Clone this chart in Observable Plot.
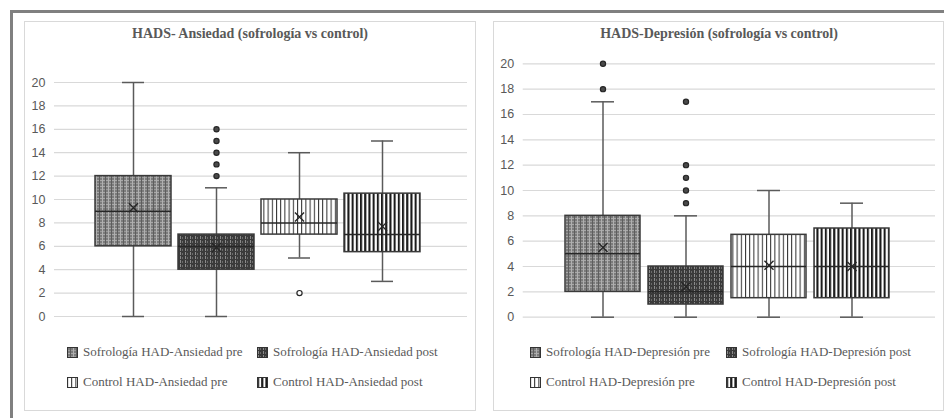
<!DOCTYPE html>
<html>
<head>
<meta charset="utf-8">
<script src="https://cdn.jsdelivr.net/npm/d3@7"></script>
<script src="https://cdn.jsdelivr.net/npm/@observablehq/plot@0.6"></script>
<style>
  html, body { margin: 0; padding: 0; background: #fff; }
  #page { position: relative; width: 944px; height: 418px; overflow: hidden; background: #fff; }
  #frame { position: absolute; left: 9.5px; top: 10px; width: 960px; height: 430px; border-top: 3.5px solid #808080; border-left: 3.5px solid #808080; box-sizing: border-box; }
  .panel { position: absolute; top: 21px; height: 390px; border: 1px solid #d9d9d9; box-sizing: border-box; background: #fff; }
  .title { position: absolute; top: 26px; font-family: "Liberation Serif", "Times New Roman", serif; font-weight: bold; font-size: 14px; color: #595959; white-space: nowrap; transform: translateX(-50%); }
  .plot { position: absolute; }
  .leg { position: absolute; font-family: "Liberation Serif", "Times New Roman", serif; font-size: 13px; color: #595959; white-space: nowrap; line-height: 16px; transform: translateY(-50%); display: flex; align-items: center; }
  .leg svg { margin-right: 5px; }
</style>
</head>
<body>
<svg width="0" height="0" style="position:absolute">
  <defs>
    <pattern id="pSofPre" patternUnits="userSpaceOnUse" width="6" height="6">
      <rect width="6" height="6" fill="#7b7b7b"/>
      <rect x="0" y="0" width="6" height="1" fill="#a9a9a9"/>
      <rect x="0" y="3" width="6" height="1" fill="#9a9a9a"/>
      <rect x="0" y="0" width="1" height="6" fill="#b0b0b0"/>
      <rect x="3" y="0" width="1" height="6" fill="#5e5e5e"/>
    </pattern>
    <pattern id="pSofPost" patternUnits="userSpaceOnUse" width="5" height="4">
      <rect width="5" height="4" fill="#3a3a3a"/>
      <rect x="1" y="0" width="1" height="3" fill="#8a8a8a"/>
      <rect x="3" y="1" width="1" height="2" fill="#6a6a6a"/>
    </pattern>
    <pattern id="pCtlPre" patternUnits="userSpaceOnUse" width="4.2" height="4">
      <rect width="4.2" height="4" fill="#ffffff"/>
      <rect x="0" y="0" width="1" height="4" fill="#2a2a2a"/>
    </pattern>
    <pattern id="pCtlPost" patternUnits="userSpaceOnUse" width="4.2" height="4">
      <rect width="4.2" height="4" fill="#ffffff"/>
      <rect x="0" y="0" width="2.1" height="4" fill="#1a1a1a"/>
    </pattern>
  </defs>
</svg>
<div id="page">
  <div id="frame"></div>
  <div class="panel" style="left:24px; width:452px;"></div>
  <div class="panel" style="left:493px; width:451px;"></div>
</div>
<script>
// ---------- data ----------
const groups = ["Sofrología pre", "Sofrología post", "Control pre", "Control post"];
const yTicks = [0, 2, 4, 6, 8, 10, 12, 14, 16, 18, 20];

const ansTitle = "HADS- Ansiedad (sofrología vs control)";
const ansLabels = ["Sofrología HAD-Ansiedad pre", "Sofrología HAD-Ansiedad post", "Control HAD-Ansiedad pre", "Control HAD-Ansiedad post"];
const ansMin = [0, 0, 5, 3];
const ansQ1 = [6, 4, 7, 5.5];
const ansMedian = [9, 6, 8, 7];
const ansQ3 = [12, 7, 10, 10.5];
const ansMax = [20, 11, 14, 15];
const ansMean = [9.3, 5.9, 8.5, 7.7];
const ansOutliers = [[], [12, 13, 14, 15, 16], [2], []];

const depTitle = "HADS-Depresión (sofrología vs control)";
const depLabels = ["Sofrología HAD-Depresión pre", "Sofrología HAD-Depresión post", "Control HAD-Depresión pre", "Control HAD-Depresión post"];
const depMin = [0, 0, 0, 0];
const depQ1 = [2, 1, 1.5, 1.5];
const depMedian = [5, 2, 4, 4];
const depQ3 = [8, 4, 6.5, 7];
const depMax = [17, 8, 10, 9];
const depMean = [5.5, 2.4, 4.1, 4.0];
const depOutliers = [[18, 20], [9, 10, 11, 12, 17], [], []];

// ---------- styles ----------
const fills = ["url(#pSofPre)", "url(#pSofPost)", "url(#pCtlPre)", "url(#pCtlPost)"];
const outlierFill = ["#4a4a4a", "#4a4a4a", "#ffffff", "#4a4a4a"];

function makeChart(cfg) {
  const rows = groups.map((g, i) => ({
    g, min: cfg.min[i], q1: cfg.q1[i], med: cfg.med[i], q3: cfg.q3[i], max: cfg.max[i], mean: cfg.mean[i], fill: fills[i]
  }));
  const outs = groups.flatMap((g, i) => cfg.out[i].map(v => ({g, v, fill: outlierFill[i]})));
  return Plot.plot({
    width: cfg.width, height: cfg.height,
    marginTop: cfg.mt, marginBottom: cfg.mb, marginLeft: cfg.ml, marginRight: cfg.mr,
    style: {background: "transparent", overflow: "visible"},
    x: {type: "band", domain: groups, range: cfg.xr, paddingInner: cfg.pi, paddingOuter: cfg.pi / 2, align: 0.5, axis: null},
    y: {domain: [0, 20], axis: null},
    color: {type: "identity"},
    marks: [
      Plot.gridY(yTicks, {stroke: "#d9d9d9", strokeOpacity: 1, strokeWidth: 1.2}),
      Plot.axisY(yTicks, {tickSize: 0, tickPadding: 9, fontSize: 12.5, fontFamily: "Liberation Sans, Arial, sans-serif", color: "#595959", fill: "#595959", label: null}),
      Plot.ruleX(rows, {x: "g", y1: "min", y2: "max", stroke: "#5a5a5a", strokeWidth: 1.5}),
      Plot.tickY(rows, {x: "g", y: "min", stroke: "#5a5a5a", strokeWidth: 1.5, insetLeft: cfg.cap, insetRight: cfg.cap}),
      Plot.tickY(rows, {x: "g", y: "max", stroke: "#5a5a5a", strokeWidth: 1.5, insetLeft: cfg.cap, insetRight: cfg.cap}),
      Plot.barY(rows, {x: "g", y1: "q1", y2: "q3", fill: d => d.fill, stroke: "#3a3a3a", strokeWidth: 1.5}),
      Plot.tickY(rows, {x: "g", y: "med", stroke: "#262626", strokeWidth: 1.5}),
      Plot.dot(rows, {x: "g", y: "mean", symbol: "times", r: 4.2, stroke: "#262626", strokeWidth: 1.4}),
      Plot.dot(outs, {x: "g", y: "v", r: 2.6, fill: d => d.fill, stroke: "#262626", strokeWidth: 1.2})
    ]
  });
}

const page = document.getElementById("page");

function place(el, left, top) {
  el.classList.add("plot");
  el.style.left = left + "px";
  el.style.top = top + "px";
  page.appendChild(el);
}

const left = makeChart({
  width: 452, height: 266, mt: 22, mb: 10, ml: 30, mr: 9,
  xr: [66.6, 401.4], pi: 0.08, cap: 27,
  min: ansMin, q1: ansQ1, med: ansMedian, q3: ansQ3, max: ansMax, mean: ansMean, out: ansOutliers
});
place(left, 24, 60);

const right = makeChart({
  width: 448, height: 277, mt: 13.3, mb: 10.3, ml: 29.7, mr: 6,
  xr: [66.1, 400.9], pi: 0.1, cap: 26,
  min: depMin, q1: depQ1, med: depMedian, q3: depQ3, max: depMax, mean: depMean, out: depOutliers
});
place(right, 493, 50);

function addTitle(text, cx) {
  const d = document.createElement("div");
  d.className = "title";
  d.textContent = text;
  d.style.left = cx + "px";
  page.appendChild(d);
}
addTitle(ansTitle, 250);
addTitle(depTitle, 719);

function addLegend(labels, xs, ys) {
  labels.forEach((lab, i) => {
    const d = document.createElement("div");
    d.className = "leg";
    d.style.left = xs[i % 2] + "px";
    d.style.top = ys[Math.floor(i / 2)] + "px";
    d.innerHTML = `<svg width="11" height="11"><rect x="0.5" y="0.5" width="10" height="10" fill="${fills[i]}" stroke="#333" stroke-width="1"/></svg>`;
    const s = document.createElement("span");
    s.textContent = lab;
    d.appendChild(s);
    page.appendChild(d);
  });
}
addLegend(ansLabels, [67, 257], [352, 382]);
addLegend(depLabels, [530, 726], [352, 382]);
</script>
</body>
</html>
